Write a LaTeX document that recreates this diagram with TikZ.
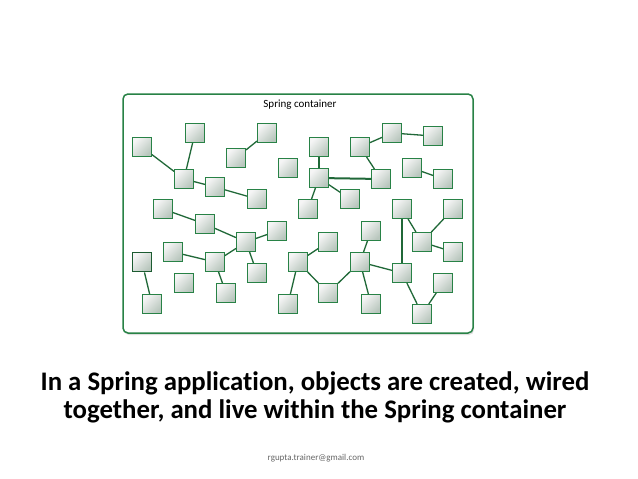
\documentclass[tikz,border=0pt]{standalone}
\usepackage{fontspec}
\setmainfont[Ligatures=NoCommon]{Carlito}
\usetikzlibrary{shadows}
\definecolor{sg}{RGB}{40,130,70}
\begin{document}
\begin{tikzpicture}[x=1pt,y=-1pt,
  bx/.style={draw=sg,line width=0.9pt,minimum size=19pt,inner sep=0pt,top color=gray!8,bottom color=sg!35!gray!45,shading angle=45},
  ln/.style={draw=sg!80!black,line width=1.3pt}]
\useasboundingbox (0,0) rectangle (638,479);
\fill[white] (0,0) rectangle (638,479);
\node[draw=sg,line width=1.5pt,rounded corners=5pt,minimum width=350pt,minimum height=239pt,fill=white,drop shadow={opacity=0.25,shadow xshift=1pt,shadow yshift=-2pt}] (cont) at (298,213.5) {};
\node (title) at (300,105) {\fontsize{11}{13}\selectfont Spring container};
\foreach \n/\x/\y in {A/142/147,B/195/133,C/267/133,D/236/158,E/184/179,F/215/187,G/257/199,H/288/168,I/319/147,J/319/178,K/308/209,L/350/199,M/360/147,N/392/133,O/433/136,P/381/179,Q/412/168,R/443/179,S/163/209,T/205/224,U/246/242,V/277/231,W/173/252,X/215/262,Y/257/273,AA/152/304,AB/184/283,AC/226/293,AD/328/242,AE/298/262,AF/288/304,AG/328/293,AH/371/231,AI/360/262,AJ/371/304,AK/402/209,AL/453/209,AM/422/242,AN/453/252,AO/402/273,AP/443/283,AQ/422/314}
  \node[bx] (\n) at (\x,\y) {};
\node[bx,line width=1.8pt,draw=sg!70!black] (Z) at (142,262) {};
\foreach \a/\b in {A/E,B/E,E/F,F/G,C/D,I/J,J/K,J/L,M/P,M/N,N/O,Q/R,S/T,T/U,U/V,U/X,U/Y,W/X,X/AC,Z/AA,AD/AE,AE/AF,AE/AG,AG/AI,AH/AI,AI/AJ,AI/AO,AK/AM,AL/AM,AM/AN,AO/AQ,AP/AQ}
  \draw[ln] (\a) -- (\b);
\draw[ln,line width=2pt] (J) -- (P);
\draw[ln,line width=2pt] (AK) -- (AO);
\node[font=\bfseries\fontsize{26.8}{28}\selectfont,align=center] (cap) at (315,397) {In a Spring application, objects are created, wired\\together, and live within the Spring container};
\node[font=\fontsize{9}{11}\selectfont,text=gray!80!black] (mail) at (316,458) {rgupta.trainer@gmail.com};
\end{tikzpicture}
\end{document}
